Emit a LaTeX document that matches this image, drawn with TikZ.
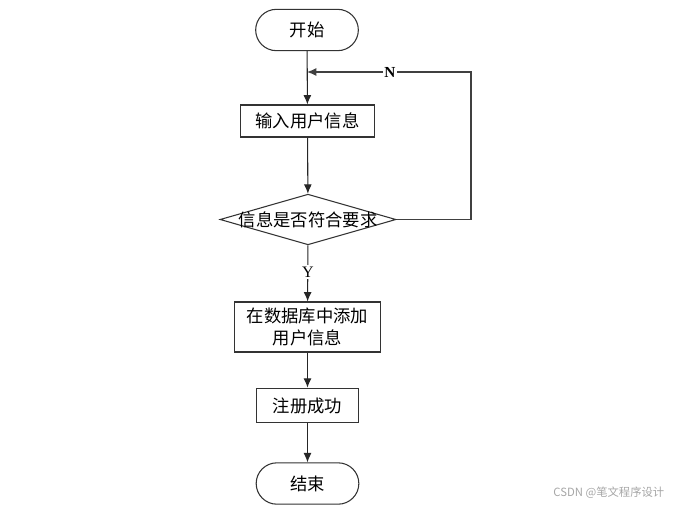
\documentclass[tikz,border=0pt]{standalone}
\usepackage{fontspec}
\setmainfont{Liberation Serif}
\newfontfamily\cjk{Noto Sans CJK SC}
\usepackage{tikz}
\usetikzlibrary{positioning, shapes.geometric, arrows.meta}

\tikzset{
  terminal/.style={draw=black!80, thick, rectangle, rounded corners=15.5pt,
    minimum width=77pt, minimum height=31pt, inner sep=0pt, font=\cjk\fontsize{13}{16}\selectfont},
  process/.style={draw=black!80, thick, rectangle, inner sep=0pt,
    font=\cjk\fontsize{13}{16}\selectfont, align=center},
  decision/.style={draw=black!80, thick, diamond, minimum width=132pt, minimum height=38pt, inner sep=0pt},
  flow/.style={-{Latex[length=7pt,width=6pt]}, black!85, thick},
}

\begin{document}
\begin{tikzpicture}[x=0.75pt, y=-0.75pt]
\useasboundingbox (0,0) rectangle (677,507);

\node[terminal] (start) at (307,30) {开始};
\node[process, minimum width=101pt, minimum height=24pt] (input) at (307.5,121) {输入用户信息};
\node[decision] (check) at (308,219.5) {};
\node[font=\cjk\fontsize{13}{16}\selectfont] (checktext) at (check) {信息是否符合要求};
\node[process, minimum width=109pt, minimum height=37.5pt] (save) at (307.5,327) {在数据库中添加\\用户信息};
\node[process, minimum width=77pt, minimum height=26pt] (ok) at (307.5,405.5) {注册成功};
\node[terminal] (stop) at (307.5,483.5) {结束};

\coordinate (back) at (307,72);
\coordinate (corner1) at (471,219.5);
\coordinate (corner2) at (471,72);

\draw[flow] (start) -- (input);
\draw[flow] (input) -- (check);
% return path when the check fails
\draw[flow, black!75] (check.east) -- (corner1) -- (corner2) -- (back);
\draw[flow] (check) -- (save);
\draw[flow] (save) -- (ok);
\draw[flow] (ok) -- (stop);

\node[font=\bfseries\fontsize{11.5}{13}\selectfont, fill=white, inner sep=1pt] (nlabel) at (390,72) {N};
\node[font=\fontsize{12}{13}\selectfont, fill=white, inner sep=1pt] (ylabel) at (308,272) {Y};

\node[font=\cjk\fontsize{8.5}{10}\selectfont, text=black!35, anchor=east] (mark) at (669,493) {CSDN @笔文程序设计};
\end{tikzpicture}
\end{document}
